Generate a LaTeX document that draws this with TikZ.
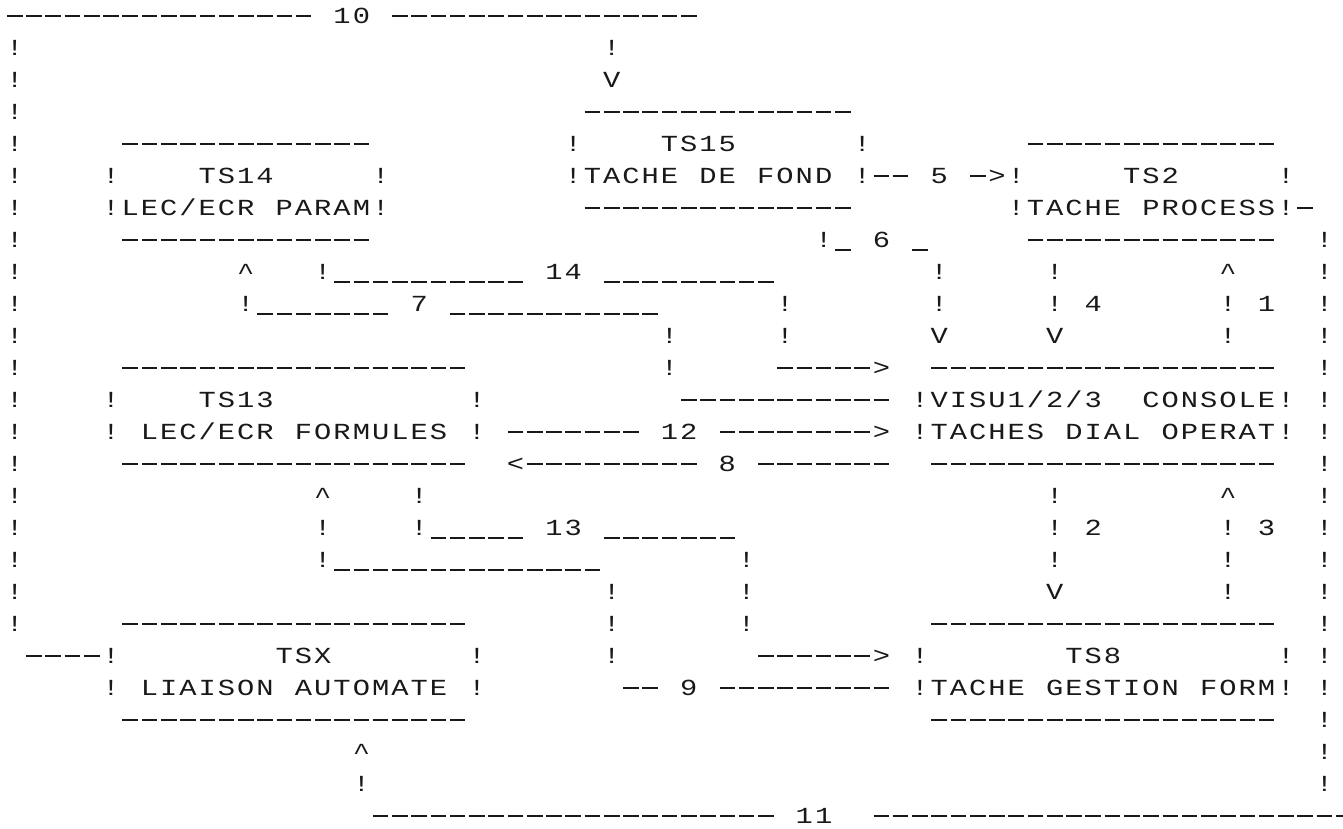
\documentclass[tikz,border=0pt]{standalone}
\usepackage{fontspec}
\newfontfamily\dmfont[FakeStretch=1.25]{Liberation Mono}
\tikzset{
  ch/.style={anchor=base, inner sep=0pt, outer sep=0pt, text=black!90, font={\dmfont\fontsize{23}{23}\selectfont}},
  dashseg/.style={line width=1.25pt, black!90, dash pattern=on 15.6pt off 3.66pt},
}
% one character cell: x = 14.7 + 19.26*col, y = -(16 + 32*row)
\ExplSyntaxOn
\int_new:N \l__dm_col_int
\tl_new:N \l__dm_x_tl
\tl_new:N \l__dm_y_tl
\tl_new:N \l__dm_name_tl
\NewDocumentCommand \dm { m m m }
  {
    \tl_set:Nx \l__dm_y_tl { \fp_eval:n { -16 - 32 * (#1) - 7.5 } }
    \int_set:Nn \l__dm_col_int { #2 }
    \str_map_inline:nn { #3 }
      {
        \str_if_eq:nnF { ##1 } { . }
          {
            \tl_set:Nx \l__dm_x_tl { \fp_eval:n { 14.7 + 19.26 * \l__dm_col_int } }
            \tl_set:Nx \l__dm_name_tl { r \int_eval:n {#1} c \int_use:N \l__dm_col_int }
            \node[ch](\l__dm_name_tl)at(\l__dm_x_tl,\l__dm_y_tl){##1};
          }
        \int_incr:N \l__dm_col_int
      }
  }
\ExplSyntaxOff
% run of '-' characters (cols #2..#3) and of '_' characters
\newcommand\dmline[3]{\draw[dashseg] ({14.7+19.26*(#2)-7.8},{-16-32*(#1)}) -- ({14.7+19.26*(#3)+7.8},{-16-32*(#1)});}
\newcommand\dmunder[3]{\draw[dashseg] ({14.7+19.26*(#2)-7.8},{-26-32*(#1)}) -- ({14.7+19.26*(#3)+7.8},{-26-32*(#1)});}
\begin{document}
\begin{tikzpicture}[x=1pt,y=1pt]
\useasboundingbox[fill=white] (0,0) rectangle (1343,-829);
% outer left and right vertical lines
\foreach \rw in {1,...,19} {\dm{\rw}{0}{!}}
\foreach \rw in {7,...,24} {\dm{\rw}{68}{!}}
% row 0
\dmline{0}{0}{15} \dm{0}{17}{10} \dmline{0}{20}{35}
% rows 1-3
\dm{1}{31}{!}
\dm{2}{31}{V}
\dmline{3}{30}{43}
% row 4
\dmline{4}{6}{18} \dm{4}{29}{!} \dm{4}{34}{TS15} \dm{4}{44}{!} \dmline{4}{53}{65}
% row 5
\dm{5}{5}{!} \dm{5}{10}{TS14} \dm{5}{19}{!}
\dm{5}{29}{!TACHE.DE.FOND.!} \dmline{5}{45}{46} \dm{5}{48}{5} \dmline{5}{50}{50} \dm{5}{51}{>!}
\dm{5}{58}{TS2} \dm{5}{66}{!}
% row 6
\dm{6}{5}{!LEC/ECR.PARAM!} \dmline{6}{30}{43} \dm{6}{52}{!TACHE.PROCESS!} \dmline{6}{67}{67}
% row 7
\dmline{7}{6}{18} \dm{7}{42}{!} \dmunder{7}{43}{43} \dm{7}{45}{6} \dmunder{7}{47}{47} \dmline{7}{53}{65}
% row 8
\dm{8}{12}{^} \dm{8}{16}{!} \dmunder{8}{17}{26} \dm{8}{28}{14} \dmunder{8}{31}{39}
\dm{8}{48}{!} \dm{8}{54}{!} \dm{8}{63}{^}
% row 9
\dm{9}{12}{!} \dmunder{9}{13}{19} \dm{9}{21}{7} \dmunder{9}{23}{33} \dm{9}{40}{!}
\dm{9}{48}{!} \dm{9}{54}{!.4} \dm{9}{63}{!.1}
% row 10
\dm{10}{34}{!} \dm{10}{40}{!} \dm{10}{48}{V} \dm{10}{54}{V} \dm{10}{63}{!}
% row 11
\dmline{11}{6}{23} \dm{11}{34}{!} \dmline{11}{40}{44} \dm{11}{45}{>} \dmline{11}{48}{65}
% row 12
\dm{12}{5}{!} \dm{12}{10}{TS13} \dm{12}{24}{!} \dmline{12}{35}{45} \dm{12}{47}{!VISU1/2/3..CONSOLE!}
% row 13
\dm{13}{5}{!.LEC/ECR.FORMULES.!} \dmline{13}{26}{32} \dm{13}{34}{12} \dmline{13}{37}{44} \dm{13}{45}{>}
\dm{13}{47}{!TACHES.DIAL.OPERAT!}
% row 14
\dmline{14}{6}{23} \dm{14}{26}{<} \dmline{14}{27}{35} \dm{14}{37}{8} \dmline{14}{39}{45} \dmline{14}{48}{65}
% row 15
\dm{15}{16}{^} \dm{15}{21}{!} \dm{15}{54}{!} \dm{15}{63}{^}
% row 16
\dm{16}{16}{!} \dm{16}{21}{!} \dmunder{16}{22}{26} \dm{16}{28}{13} \dmunder{16}{31}{37}
\dm{16}{54}{!.2} \dm{16}{63}{!.3}
% row 17
\dm{17}{16}{!} \dmunder{17}{17}{30} \dm{17}{38}{!} \dm{17}{54}{!} \dm{17}{63}{!}
% row 18
\dm{18}{31}{!} \dm{18}{38}{!} \dm{18}{54}{V} \dm{18}{63}{!}
% row 19
\dmline{19}{6}{23} \dm{19}{31}{!} \dm{19}{38}{!} \dmline{19}{48}{65}
% row 20
\dmline{20}{1}{4} \dm{20}{5}{!} \dm{20}{14}{TSX} \dm{20}{24}{!} \dm{20}{31}{!}
\dmline{20}{39}{44} \dm{20}{45}{>} \dm{20}{47}{!} \dm{20}{55}{TS8} \dm{20}{66}{!}
% row 21
\dm{21}{5}{!.LIAISON.AUTOMATE.!} \dmline{21}{32}{33} \dm{21}{35}{9} \dmline{21}{37}{45}
\dm{21}{47}{!TACHE.GESTION.FORM!}
% row 22
\dmline{22}{6}{23} \dmline{22}{48}{65}
% rows 23-25
\dm{23}{18}{^}
\dm{24}{18}{!}
\dmline{25}{19}{39} \dm{25}{41}{11} \dmline{25}{45}{69}
\end{tikzpicture}
\end{document}
